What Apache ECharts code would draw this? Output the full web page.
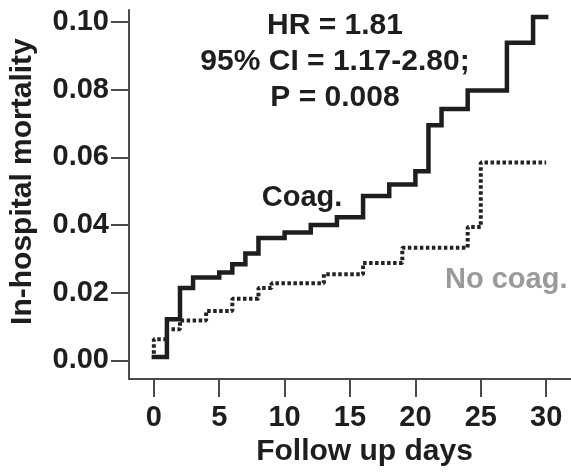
<!DOCTYPE html>
<html lang="en">
<head>
    <meta charset="UTF-8">
    <title>In-hospital mortality</title>
    <script src="https://cdn.jsdelivr.net/npm/echarts@6/dist/echarts.min.js"></script>
    <style>
        html, body { margin: 0; padding: 0; background: #fff; }
    </style>
</head>
<body>
<div id="chartmain" style="width:571px; height:472px;"></div>
<script type="text/javascript">
    // step points: value holds from that day on
    var coagDays = [0, 1, 2, 3, 5, 6, 7, 8, 10, 12, 14, 16, 18, 20, 21, 22, 24, 27, 29, 30];
    var coagRisk = [0.001, 0.0122, 0.0214, 0.0245, 0.026, 0.0284, 0.0316, 0.0362, 0.0378, 0.040,
                    0.0423, 0.0486, 0.052, 0.0559, 0.0695, 0.0743, 0.0797, 0.0938, 0.1014, 0.1014];
    var noCoagDays = [0, 0, 1, 2, 4, 6, 8, 9, 13, 16, 19, 24, 25, 30];
    var noCoagRisk = [0.002, 0.0063, 0.0092, 0.0118, 0.0146, 0.0182, 0.0214, 0.0228, 0.0255,
                      0.0288, 0.0333, 0.0394, 0.0585, 0.0585];
    var xTicks = [0, 5, 10, 15, 20, 25, 30];
    var yTicks = [0, 0.02, 0.04, 0.06, 0.08, 0.10];
    var statLines = ['HR = 1.81', '95% CI = 1.17-2.80;', 'P = 0.008'];

    function zip(xs, ys) {
        return xs.map(function (x, i) { return [x, ys[i]]; });
    }

    var FONT = '"Liberation Sans", Arial, Helvetica, sans-serif';
    var AXIS_COLOR = '#4a4a4a';
    var TEXT_COLOR = '#1e1e1e';

    var myChart = echarts.init(document.getElementById('chartmain'));
    myChart.setOption({
        animation: false,
        grid: { left: 128, right: 0, top: 10, bottom: 88 },
        xAxis: {
            type: 'value',
            min: -1.9,
            max: 31.9,
            name: 'Follow up days',
            nameLocation: 'middle',
            nameGap: 52,
            nameTextStyle: {
                fontFamily: FONT, fontWeight: 'bold', fontSize: 30, color: TEXT_COLOR,
                padding: [0, 0, 0, 29]
            },
            splitLine: { show: false },
            axisLine: { onZero: false, lineStyle: { color: AXIS_COLOR, width: 2 } },
            axisTick: {
                customValues: xTicks, length: 18,
                lineStyle: { color: AXIS_COLOR, width: 2 }
            },
            axisLabel: {
                customValues: xTicks, margin: 24,
                fontFamily: FONT, fontWeight: 'bold', fontSize: 29, color: TEXT_COLOR
            }
        },
        yAxis: {
            type: 'value',
            min: -0.0055,
            max: 0.1035,
            name: 'In-hospital mortality',
            nameLocation: 'middle',
            nameGap: 91,
            nameTextStyle: {
                fontFamily: FONT, fontWeight: 'bold', fontSize: 30, color: TEXT_COLOR,
                padding: [0, 0, 0, 26]
            },
            splitLine: { show: false },
            axisLine: { show: true, onZero: false, lineStyle: { color: AXIS_COLOR, width: 2 } },
            axisTick: {
                show: true, customValues: yTicks, length: 18,
                lineStyle: { color: AXIS_COLOR, width: 2 }
            },
            axisLabel: {
                customValues: yTicks, margin: 20,
                fontFamily: FONT, fontWeight: 'bold', fontSize: 29, color: TEXT_COLOR,
                formatter: function (v) { return v.toFixed(2); }
            }
        },
        series: [
            {
                name: 'Coag.',
                type: 'line',
                step: 'end',
                symbol: 'none',
                data: zip(coagDays, coagRisk),
                lineStyle: { color: '#1e1e1e', width: 4.5, join: 'miter', cap: 'square' }
            },
            {
                name: 'No coag.',
                type: 'line',
                step: 'end',
                symbol: 'none',
                data: zip(noCoagDays, noCoagRisk),
                lineStyle: { color: '#222', width: 4, type: [3.5, 2.5] }
            }
        ],
        graphic: [
            {
                type: 'text',
                style: {
                    text: statLines.join('\n'),
                    x: 335, y: 62,
                    align: 'center', verticalAlign: 'middle',
                    lineHeight: 36,
                    font: 'bold 30px ' + FONT,
                    fill: TEXT_COLOR
                }
            },
            {
                type: 'text',
                style: {
                    text: 'Coag.', x: 302, y: 198,
                    align: 'center', verticalAlign: 'middle',
                    font: 'bold 29px ' + FONT, fill: TEXT_COLOR
                }
            },
            {
                type: 'text',
                style: {
                    text: 'No coag.', x: 445, y: 280,
                    align: 'left', verticalAlign: 'middle',
                    font: 'bold 29px ' + FONT, fill: '#9a9a9a'
                }
            }
        ]
    });
</script>
</body>
</html>
